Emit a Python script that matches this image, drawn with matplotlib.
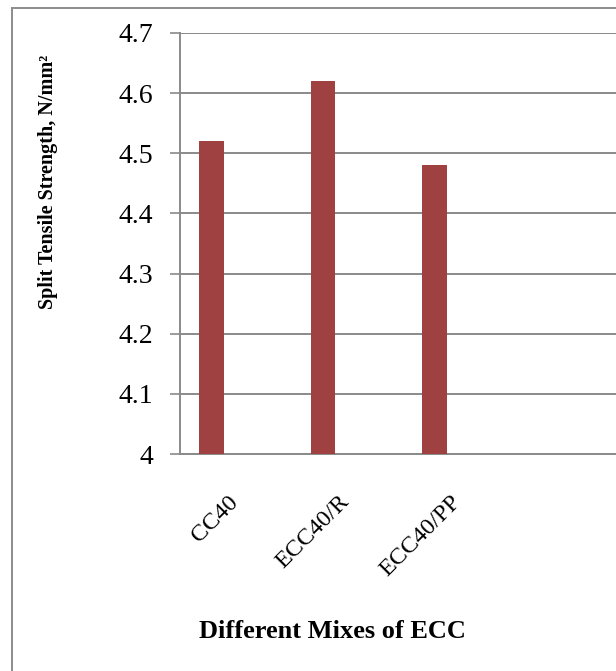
import matplotlib.pyplot as plt
import matplotlib.transforms as mtransforms
from matplotlib.patches import Rectangle

# split tensile strength of each mix (N/mm^2)
mixes = ['CC40', 'ECC40/R', 'ECC40/PP', '']
strength = [4.52, 4.62, 4.48, None]
y_ticks = [4.0, 4.1, 4.2, 4.3, 4.4, 4.5, 4.6, 4.7]
y_tick_labels = ['4', '4.1', '4.2', '4.3', '4.4', '4.5', '4.6', '4.7']

W, H = 616, 671
fig = plt.figure(figsize=(W / 100, H / 100), dpi=100)
serif = ['Liberation Serif', 'DejaVu Serif']
plt.rcParams['font.family'] = serif

# outer chart frame (only left/top edges fall inside the image)
fig.patches.append(Rectangle((12 / W, -0.1), 1.2, 1 - 8 / H + 0.1,
                             transform=fig.transFigure, fill=False,
                             edgecolor='#8c8c8c', lw=1.4))

ax = fig.add_axes([180 / W, (H - 454) / H, 446 / W, 421 / H])

grid_c = '#8a8a8a'
xs = [i for i, v in enumerate(strength) if v is not None]
vals = [v for v in strength if v is not None]
ax.bar([x - 0.2175 for x in xs], [v - 4.0 for v in vals], bottom=4.0,
       width=0.224, color='#9e4140', zorder=3)

ax.set_xlim(-0.5, 3.5)
ax.set_ylim(4.0, 4.7)
ax.set_yticks(y_ticks)
ax.set_yticklabels(y_tick_labels, fontsize=20)
ax.yaxis.grid(True, color=grid_c, lw=1.4, zorder=0)
ax.tick_params(axis='y', length=7.2, width=1.2, color=grid_c, pad=12)

ax.set_xticks(range(len(mixes)))
ax.set_xticklabels(mixes, rotation=45, ha='right', va='top',
                   rotation_mode='anchor', fontsize=17.5)
ax.tick_params(axis='x', length=0, pad=27)
shift = mtransforms.ScaledTranslation(-6 / 72, 0, fig.dpi_scale_trans)
for lbl in ax.get_xticklabels():
    lbl.set_transform(lbl.get_transform() + shift)

for side in ['top', 'right']:
    ax.spines[side].set_visible(False)
for side in ['left', 'bottom']:
    ax.spines[side].set_color(grid_c)
    ax.spines[side].set_linewidth(1.4)

fig.text(48 / W, 1 - 182 / H, 'Split Tensile Strength, N/mm²',
         rotation=90, ha='center', va='center', fontsize=14.5,
         fontweight='bold', family=serif)
fig.text(332 / W, 1 - 632 / H, 'Different Mixes of ECC',
         ha='center', va='center', fontsize=19, fontweight='bold',
         family=serif)

fig.savefig('out.png', dpi=100)
